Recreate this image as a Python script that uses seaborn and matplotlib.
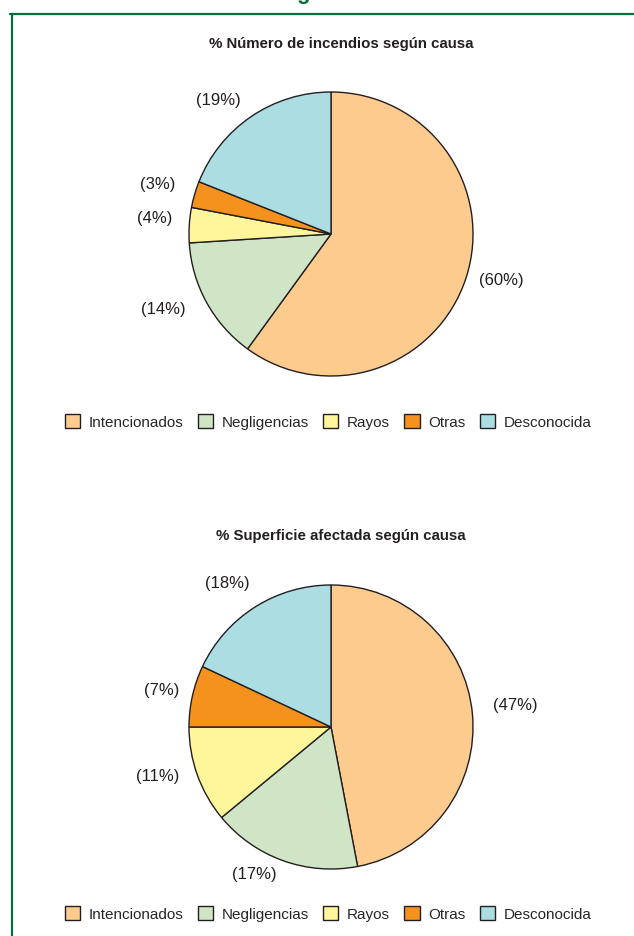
import matplotlib
matplotlib.use("Agg")
import matplotlib.pyplot as plt
from matplotlib.lines import Line2D
import seaborn as sns

# datos
causas = ["Intencionados", "Negligencias", "Rayos", "Otras", "Desconocida"]
num_incendios = [60, 14, 4, 3, 19]
sup_afectada = [47, 17, 11, 7, 18]
titulo_1 = "% Número de incendios según causa"
titulo_2 = "% Superficie afectada según causa"
colores = ["#FDCB8E", "#CFE5C5", "#FFF59B", "#F5921E", "#ACDDE2"]

# posicion de las etiquetas (unidades del radio)
pos_1 = [(1.20, -0.33), (-1.18, -0.53), (-1.24, 0.11), (-1.22, 0.35), (-0.79, 0.94)]
pos_2 = [(1.30, 0.15), (-0.54, -1.04), (-1.22, -0.35), (-1.19, 0.26), (-0.73, 1.01)]

sns.set_theme(style="white")
plt.rcParams["font.family"] = ["Liberation Sans", "DejaVu Sans"]
verde = "#00703C"

W, H = 634, 936
fig = plt.figure(figsize=(W / 100, H / 100), dpi=100)

# marco verde
fig.add_artist(Line2D([10 / W, 1], [1 - 14 / H, 1 - 14 / H], color=verde, lw=1.6,
                      transform=fig.transFigure))
fig.add_artist(Line2D([11.5 / W, 11.5 / W], [0, 1 - 14 / H], color=verde, lw=1.6,
                      transform=fig.transFigure))
fig.text(303 / W, 1.0 + 1 / H, "g", ha="center", va="baseline", fontsize=16,
         fontweight="bold", color=verde)

lim = 1.45


def tarta(valores, pos, cy, titulo, ty, ly):
    half = lim * 142
    ax = fig.add_axes([(331 - half) / W, (H - cy - half) / H, 2 * half / W, 2 * half / H])
    wedges, texts = ax.pie(valores, colors=sns.color_palette(colores), startangle=90,
                           counterclock=False, radius=1,
                           labels=[f"({v}%)" for v in valores],
                           wedgeprops=dict(edgecolor="#231F20", linewidth=1.0),
                           textprops=dict(fontsize=12, color="#231F20"))
    for t, p in zip(texts, pos):
        t.set_position(p)
        t.set_ha("center")
        t.set_va("center")
    ax.set_xlim(-lim, lim)
    ax.set_ylim(-lim, lim)
    ax.set_axis_off()
    fig.text(341 / W, 1 - ty / H, titulo, ha="center", va="center", fontsize=10.8,
             fontweight="bold", color="#231F20")
    fig.legend(wedges, causas, loc="center", bbox_to_anchor=(328 / W, 1 - ly / H),
               ncol=5, frameon=False, handlelength=1.0, handleheight=1.0,
               handletextpad=0.55, columnspacing=0.95,
               prop=dict(size=11))


tarta(num_incendios, pos_1, 234, titulo_1, 44, 422)
tarta(sup_afectada, pos_2, 727, titulo_2, 536, 914)

fig.savefig("out.png", dpi=100)
